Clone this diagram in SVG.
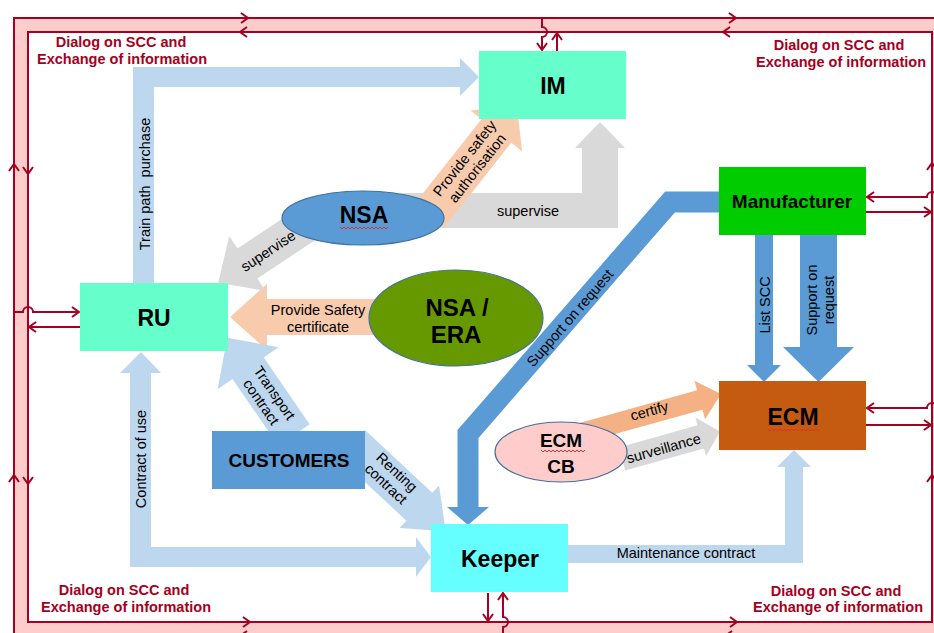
<svg xmlns="http://www.w3.org/2000/svg" xmlns:xlink="http://www.w3.org/1999/xlink" width="934" height="633" viewBox="0 0 934 633">
<style>
.lb{fill:#BDD7EE}
.gr{fill:#D9D9D9}
.pe{fill:#F8CBAD}
.or{fill:#F4B183}
.mb{fill:#5B9BD5}
.rl{fill:none;stroke:#A50021;stroke-width:2}
.lbl{font-family:"Liberation Sans",Arial,sans-serif;font-size:14.5px;fill:#000;text-anchor:middle}
.nd{font-family:"Liberation Sans",Arial,sans-serif;font-weight:bold;font-size:23px;fill:#000;text-anchor:middle}
.nds{font-family:"Liberation Sans",Arial,sans-serif;font-weight:bold;font-size:19px;fill:#000;text-anchor:middle}
.dlg{font-family:"Liberation Sans",Arial,sans-serif;font-weight:bold;font-size:14.5px;fill:#A50021;text-anchor:middle}
.spell{fill:none;stroke:#E03030;stroke-width:1}
.ell{stroke:#41719C;stroke-width:1.2}
</style>
<defs>
<path id="chv" d="M-7,-5 L0,0 L-7,5" fill="none" stroke="#A50021" stroke-width="2"/>
</defs>
<rect width="934" height="633" fill="#FFFFFF"/>
<g id="frame">
<rect x="14" y="18" width="932" height="618" fill="#FFCCCC" stroke="#A50021" stroke-width="2"/>
<rect x="28" y="32" width="904" height="590" fill="#FFFFFF" stroke="#A50021" stroke-width="2"/>
<use href="#chv" transform="translate(248,18)"/>
<use href="#chv" transform="translate(736,18)"/>
<use href="#chv" transform="translate(240,32) rotate(180)"/>
<use href="#chv" transform="translate(723,32) rotate(180)"/>
<use href="#chv" transform="translate(14,164) rotate(-90)"/>
<use href="#chv" transform="translate(14,475) rotate(-90)"/>
<use href="#chv" transform="translate(28,174) rotate(90)"/>
<use href="#chv" transform="translate(28,484) rotate(90)"/>
<use href="#chv" transform="translate(250,622)"/>
<use href="#chv" transform="translate(737,622)"/>
<use href="#chv" transform="translate(240,636) rotate(180)"/>
<use href="#chv" transform="translate(725,636) rotate(180)"/>
<use href="#chv" transform="translate(932,163) rotate(-90)"/>
<use href="#chv" transform="translate(932,475) rotate(-90)"/>
<text class="dlg" x="121" y="47">Dialog on SCC and</text>
<text class="dlg" x="122" y="64">Exchange of information</text>
<text class="dlg" x="839" y="50">Dialog on SCC and</text>
<text class="dlg" x="841" y="67">Exchange of information</text>
<text class="dlg" x="124" y="595">Dialog on SCC and</text>
<text class="dlg" x="126" y="612">Exchange of information</text>
<text class="dlg" x="836" y="596">Dialog on SCC and</text>
<text class="dlg" x="838" y="612">Exchange of information</text>
</g>
<g id="connectors">
<g id="c-train-path">
<polygon class="lb" points="133,283 133,67 460,67 460,58 479,77 460,96 460,87 154,87 154,283"/>
<text class="lbl" transform="translate(150,184) rotate(-90)" xml:space="preserve">Train path  purchase</text>
</g>
<g id="c-contract-of-use">
<polygon class="lb" points="141,352 161,373 151,373 151,547 416,547 416,537 431,557 416,577 416,567 130,567 130,373 120,373"/>
<text class="lbl" transform="translate(146,459) rotate(-90)">Contract of use</text>
</g>
<g id="c-maintenance">
<polygon class="lb" points="568,545 785,545 785,467 777,467 794,450 811,467 803,467 803,563 568,563"/>
<text class="lbl" x="686" y="558">Maintenance contract</text>
</g>
<g id="c-nsa-im-supervise">
<polygon class="gr" points="400,193 582,193 582,148 575,148 600,122 625,148 618,148 618,228 400,228"/>
<text class="lbl" x="528" y="216">supervise</text>
</g>
<g id="c-nsa-im-auth" transform="translate(430,215) rotate(-51.7)">
<polygon class="pe" points="0,-19 107,-19 107,-33 140,0 107,33 107,19 0,19"/>
<text class="lbl" x="66" y="-3">Provide safety</text>
<text class="lbl" x="66" y="13">authorisation</text>
</g>
<g id="c-era-ru">
<polygon class="pe" points="390,299 267,299 267,284 230,317 267,350 267,335 390,335"/>
<text class="lbl" x="318" y="315">Provide Safety</text>
<text class="lbl" x="318" y="332">certificate</text>
</g>
<g id="c-nsa-ru-supervise">
<polygon class="gr" transform="translate(310,222) rotate(146.5)" points="0,-18 75,-18 75,-33 110,0 75,33 75,18 0,18"/>
<text class="lbl" transform="translate(268,251) rotate(-33.5)" y="5">supervise</text>
</g>
<g id="c-transport">
<polygon class="lb" transform="translate(294,435) rotate(-124.5)" points="0,-19 81,-19 81,-37 118,0 81,37 81,19 0,19"/>
<g transform="translate(267,398) rotate(55.5)">
<text class="lbl" y="-4">Transport</text>
<text class="lbl" y="12">contract</text>
</g>
</g>
<g id="c-renting" transform="translate(352,444) rotate(43)">
<polygon class="lb" points="0,-19 92,-19 92,-29 128,0 92,29 92,19 0,19"/>
<text class="lbl" x="52" y="-5">Renting</text>
<text class="lbl" x="52" y="11">contract</text>
</g>
<g id="c-manu-keeper">
<path d="M722,202 H670 L468,434 V507" fill="none" stroke="#5B9BD5" stroke-width="21" stroke-linejoin="miter"/>
<polygon class="mb" points="447,507 489,507 468,525"/>
<text class="lbl" transform="translate(570,318) rotate(-49)" y="5">Support on request</text>
</g>
<g id="c-list-scc">
<polygon class="mb" points="755,235 773,235 773,365 781,365 764,382 747,365 755,365"/>
<text class="lbl" transform="translate(770,305) rotate(-90)">List SCC</text>
</g>
<g id="c-manu-ecm">
<polygon class="mb" points="800,235 837,235 837,347 854,347 818.5,382 783,347 800,347"/>
<g transform="translate(818,300) rotate(-90)">
<text class="lbl" y="-1">Support on</text>
<text class="lbl" y="16">request</text>
</g>
</g>
<g id="c-certify" transform="translate(575,434.6) rotate(-15.5)">
<polygon class="or" points="0,-10 129.5,-10 129.5,-20 151.5,0 129.5,20 129.5,10 0,10"/>
<text class="lbl" x="78" y="2">certify</text>
</g>
<g id="c-surveillance" transform="translate(622,459) rotate(-15.7)">
<polygon class="gr" points="0,-12 81.8,-12 81.8,-20 101.8,0 81.8,20 81.8,12 0,12"/>
<text class="lbl" x="43" y="6">surveillance</text>
</g>
<g id="c-frame-links">
<path class="rl" d="M542,18 V27 A5,5 0 0 1 542,37 V50"/>
<use href="#chv" transform="translate(542,50) rotate(90)"/>
<path class="rl" d="M557,51 V33"/>
<use href="#chv" transform="translate(557,33) rotate(-90)"/>
<path class="rl" d="M14,312 H23 A5,5 0 0 1 33,312 H79"/>
<use href="#chv" transform="translate(79,312)"/>
<path class="rl" d="M80,327 H29"/>
<use href="#chv" transform="translate(29,327) rotate(180)"/>
<path class="rl" d="M946,197 H937 A5,5 0 0 0 927,197 H867"/>
<use href="#chv" transform="translate(867,197) rotate(180)"/>
<path class="rl" d="M866,212 H931"/>
<use href="#chv" transform="translate(931,212)"/>
<path class="rl" d="M946,408 H937 A5,5 0 0 0 927,408 H867"/>
<use href="#chv" transform="translate(867,408) rotate(180)"/>
<path class="rl" d="M866,425 H931"/>
<use href="#chv" transform="translate(931,425)"/>
<path class="rl" d="M488,593 V621"/>
<use href="#chv" transform="translate(488,621) rotate(90)"/>
<path class="rl" d="M503,640 V627 A5,5 0 0 0 503,617 V593"/>
<use href="#chv" transform="translate(503,593) rotate(-90)"/>
</g>
</g>
<g id="IM">
<rect x="479" y="51" width="147" height="68" fill="#66FFCC"/>
<text class="nd" x="553" y="94">IM</text>
</g>
<g id="RU">
<rect x="80" y="283" width="148" height="68" fill="#66FFCC"/>
<text class="nd" x="154" y="326">RU</text>
</g>
<g id="NSA">
<ellipse class="ell" cx="363" cy="218" rx="81" ry="27" fill="#5B9BD5"/>
<text class="nd" x="364" y="223">NSA</text>
<path class="spell" d="M340,227 l2,2 l2,-2 l2,2 l2,-2 l2,2 l2,-2 l2,2 l2,-2 l2,2 l2,-2 l2,2 l2,-2 l2,2 l2,-2 l2,2 l2,-2 l2,2 l2,-2 l2,2 l2,-2 l2,2 l2,-2 l2,2 l2,-2"/>
</g>
<g id="NSA-ERA">
<ellipse class="ell" cx="456" cy="318" rx="87" ry="48" fill="#669900"/>
<text class="nd" x="457" y="316" style="font-size:24px">NSA /</text>
<text class="nd" x="456" y="343" style="font-size:24px">ERA</text>
</g>
<g id="Manufacturer">
<rect x="719" y="167" width="147" height="68" fill="#00CC00"/>
<text class="nds" x="792" y="208">Manufacturer</text>
</g>
<g id="ECM">
<rect x="719" y="381" width="147" height="69" fill="#C55A11"/>
<text class="nd" x="793" y="425">ECM</text>
<path class="spell" d="M768,429 l2,2 l2,-2 l2,2 l2,-2 l2,2 l2,-2 l2,2 l2,-2 l2,2 l2,-2 l2,2 l2,-2 l2,2 l2,-2 l2,2 l2,-2 l2,2 l2,-2 l2,2 l2,-2 l2,2 l2,-2 l2,2 l2,-2 l2,2 l2,-2"/>
</g>
<g id="ECM-CB">
<ellipse class="ell" cx="561" cy="452" rx="66" ry="30" fill="#FFCCCC"/>
<text class="nds" x="561" y="447">ECM</text>
<text class="nds" x="561" y="473">CB</text>
<path class="spell" d="M541,450 l2,2 l2,-2 l2,2 l2,-2 l2,2 l2,-2 l2,2 l2,-2 l2,2 l2,-2 l2,2 l2,-2 l2,2 l2,-2 l2,2 l2,-2 l2,2 l2,-2 l2,2 l2,-2 l2,2 l2,-2"/>
</g>
<g id="CUSTOMERS">
<rect x="212" y="431" width="153" height="58" fill="#5B9BD5"/>
<text class="nds" x="289" y="467">CUSTOMERS</text>
</g>
<g id="Keeper">
<rect x="431" y="524" width="137" height="68" fill="#66FFFF"/>
<text class="nd" x="500" y="567">Keeper</text>
</g>
</svg>
